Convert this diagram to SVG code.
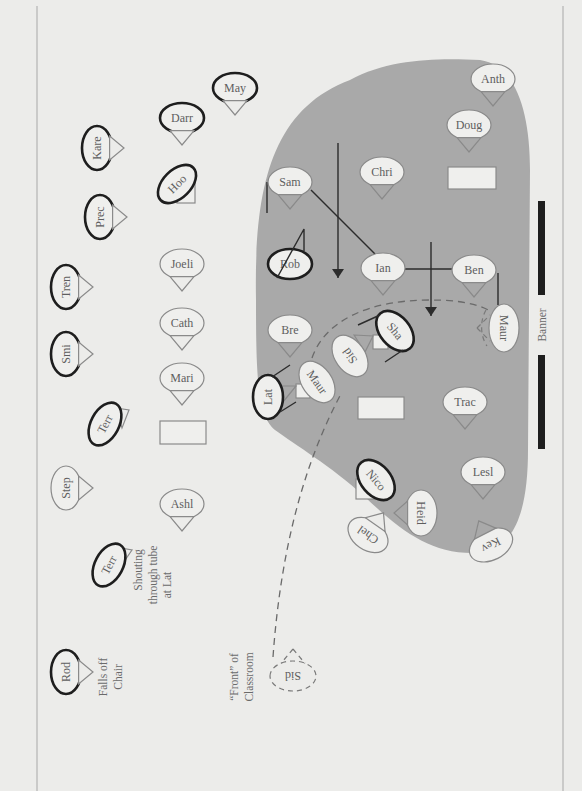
<svg xmlns="http://www.w3.org/2000/svg" width="582" height="791" viewBox="0 0 582 791">
<defs>
<style>
.e{fill:#efefed;stroke:#8a8a8a;stroke-width:1.2}
.k{stroke:#1e1e1e;stroke-width:2.6}
.t{stroke:#8a8a8a;stroke-width:1.2}
.to{fill:#ececea}
.ti{fill:#a9a9a9}
.r{fill:#efefed;stroke:#8a8a8a;stroke-width:1.2}
.lb{font-family:"Liberation Serif","Times New Roman",serif;font-size:12px;fill:#5e5e5e;text-anchor:middle;dominant-baseline:central}
.nt{font-family:"Liberation Serif","Times New Roman",serif;font-size:11.5px;fill:#6a6a6a;text-anchor:middle;dominant-baseline:central}
.ln{fill:none;stroke:#2c2c2c;stroke-width:1.4}
.ds{fill:none;stroke:#6a6a6a;stroke-width:1.3;stroke-dasharray:7 5}
.dn{fill:none;stroke:#7a7a7a;stroke-width:1.2;stroke-dasharray:5 4}
.tl{fill:none;stroke:#2c2c2c;stroke-width:1.4}
</style>
<marker id="ah" viewBox="0 0 9 12" refX="9" refY="6" markerWidth="9" markerHeight="12" markerUnits="userSpaceOnUse" orient="auto">
<path d="M0,0 L9,6 L0,12 z" fill="#2c2c2c"/>
</marker>
</defs>

<rect x="0" y="0" width="582" height="791" fill="#ececea"/>
<line x1="37" y1="6" x2="37" y2="791" stroke="#a8a8a8" stroke-width="1"/>
<line x1="563" y1="6" x2="563" y2="791" stroke="#a8a8a8" stroke-width="1"/>

<path id="zone" d="M256,300 C254,190 270,110 350,80 C390,58 440,58 480,60 C515,65 530,110 530,170 L528,450 C528,510 515,552 475,553 C430,554 400,530 365,497 C330,465 295,445 275,430 C258,415 256,380 256,300 Z" fill="#a9a9a9"/>

<g id="banner">
<rect x="538" y="201" width="7" height="94" fill="#1e1e1e"/>
<rect x="538" y="355" width="7" height="94" fill="#1e1e1e"/>
<text class="nt" transform="translate(542,325) rotate(-90)">Banner</text>
</g>

<g id="connectors">
<path class="ln" d="M267,182 V213"/>
<path class="ln" d="M311,190 L375,254"/>
<path class="ln" d="M405,269 H452"/>
<path class="ln" d="M498,273 V305"/>
<path class="ln" d="M338,143 V278" marker-end="url(#ah)"/>
<path class="ln" d="M431,242 V316" marker-end="url(#ah)"/>
<path class="ds" d="M273,657 C280,560 300,470 342,392"/>
<path class="ds" d="M312,358 C325,320 370,300 430,300 C460,300 478,304 490,311"/>
</g>

<!-- outside nodes -->
<g id="may" transform="translate(235,88)"><ellipse class="e k" rx="22" ry="15"/><polygon class="t to" points="-12,12.6 12,12.6 0,27"/><text class="lb">May</text></g>
<g id="darr" transform="translate(182,118)"><ellipse class="e k" rx="22" ry="15"/><polygon class="t to" points="-12,12.6 12,12.6 0,27"/><text class="lb">Darr</text></g>
<g id="kare" transform="translate(97,148) rotate(-90)"><ellipse class="e k" rx="22" ry="15"/><polygon class="t to" points="-12,12.6 12,12.6 0,27"/><text class="lb">Kare</text></g>
<g id="hoo"><rect class="r" x="177" y="178" width="18" height="25"/><ellipse class="e k" rx="23" ry="14" transform="translate(177,184) rotate(-45)"/><text class="lb" transform="translate(177,184) rotate(-45)">Hoo</text></g>
<g id="prec" transform="translate(100,217) rotate(-90)"><ellipse class="e k" rx="22" ry="15"/><polygon class="t to" points="-12,12.6 12,12.6 0,27"/><text class="lb">Prec</text></g>
<g id="joeli" transform="translate(182,264)"><ellipse class="e" rx="22" ry="15"/><polygon class="t to" points="-12,12.6 12,12.6 0,27"/><text class="lb">Joeli</text></g>
<g id="tren" transform="translate(66,287) rotate(-90)"><ellipse class="e k" rx="22" ry="15"/><polygon class="t to" points="-12,12.6 12,12.6 0,27"/><text class="lb">Tren</text></g>
<g id="cath" transform="translate(182,323)"><ellipse class="e" rx="22" ry="15"/><polygon class="t to" points="-12,12.6 12,12.6 0,27"/><text class="lb">Cath</text></g>
<g id="smi" transform="translate(66,354) rotate(-90)"><ellipse class="e k" rx="22" ry="15"/><polygon class="t to" points="-12,12.6 12,12.6 0,27"/><text class="lb">Smi</text></g>
<g id="mari" transform="translate(182,378)"><ellipse class="e" rx="22" ry="15"/><polygon class="t to" points="-12,12.6 12,12.6 0,27"/><text class="lb">Mari</text></g>
<g id="terr1"><polygon class="t to" points="116,408 129,410 122,428"/><ellipse class="e k" rx="23" ry="14" transform="translate(105,424) rotate(-62)"/><text class="lb" transform="translate(105,424) rotate(-62)">Terr</text></g>
<g id="desk1"><rect class="r" x="160" y="421" width="46" height="23"/></g>
<g id="step" transform="translate(66,488) rotate(-90)"><ellipse class="e" rx="22" ry="15"/><polygon class="t to" points="-12,12.6 12,12.6 0,27"/><text class="lb">Step</text></g>
<g id="ashl" transform="translate(182,504)"><ellipse class="e" rx="22" ry="15"/><polygon class="t to" points="-12,12.6 12,12.6 0,27"/><text class="lb">Ashl</text></g>
<g id="terr2"><polygon class="t to" points="115,547 132,550 123,563"/><ellipse class="e k" rx="23" ry="14" transform="translate(109,565) rotate(-62)"/><text class="lb" transform="translate(109,565) rotate(-62)">Terr</text></g>
<g id="rod" transform="translate(66,672) rotate(-90)"><ellipse class="e k" rx="22" ry="15"/><polygon class="t to" points="-12,12.6 12,12.6 0,27"/><text class="lb">Rod</text></g>
<g id="pls" transform="translate(293,676) rotate(180)"><ellipse class="dn" rx="23" ry="15"/><path class="dn" d="M0,27 L-12,12.6 M0,27 L12,12.6"/><text class="lb">Sid</text></g>

<!-- inside nodes -->
<g id="anth" transform="translate(493,79)"><ellipse class="e" rx="22" ry="15"/><polygon class="t ti" points="-12,12.6 12,12.6 0,27"/><text class="lb">Anth</text></g>
<g id="doug" transform="translate(469,125)"><ellipse class="e" rx="22" ry="15"/><polygon class="t ti" points="-12,12.6 12,12.6 0,27"/><text class="lb">Doug</text></g>
<g id="desk2"><rect class="r" x="448" y="167" width="48" height="22"/></g>
<g id="chri" transform="translate(382,172)"><ellipse class="e" rx="22" ry="15"/><polygon class="t ti" points="-12,12.6 12,12.6 0,27"/><text class="lb">Chri</text></g>
<g id="sam" transform="translate(290,182)"><ellipse class="e" rx="22" ry="15"/><polygon class="t ti" points="-12,12.6 12,12.6 0,27"/><text class="lb">Sam</text></g>
<g id="rob"><ellipse class="e k" cx="290" cy="264" rx="22" ry="15"/><text class="lb" x="290" y="264">Rob</text><path class="tl" d="M277,278 L304,229 L304,251"/></g>
<g id="ian" transform="translate(383,268)"><ellipse class="e" rx="22" ry="15"/><polygon class="t ti" points="-12,12.6 12,12.6 0,27"/><text class="lb">Ian</text></g>
<g id="ben" transform="translate(474,270)"><ellipse class="e" rx="22" ry="15"/><polygon class="t ti" points="-12,12.6 12,12.6 0,27"/><text class="lb">Ben</text></g>
<g id="maur-r" transform="translate(504,328) rotate(90)"><ellipse class="e" rx="24" ry="15"/><path class="dn" d="M0,27 L-13,14 M0,27 L13,14"/><path class="dn" d="M-18,18 C-8,24 8,24 18,17"/><text class="lb">Maur</text></g>
<g id="bre" transform="translate(290,330)"><ellipse class="e" rx="22" ry="15"/><polygon class="t ti" points="-12,12.6 12,12.6 0,27"/><text class="lb">Bre</text></g>
<g id="sha"><rect class="r" x="373" y="335" width="15" height="14"/><ellipse class="e k" rx="23" ry="15" transform="translate(395,331) rotate(50)"/><text class="lb" transform="translate(395,331) rotate(50)">Sha</text><path class="tl" d="M358,325 L380,315 M385,362 L403,350"/></g>
<g id="sid"><polygon class="t ti" points="354,335 373,336 365,352"/><ellipse class="e" rx="23" ry="15" transform="translate(350,356) rotate(55)"/><text class="lb" transform="translate(350,356) rotate(235)">Sid</text></g>
<g id="maur-l"><rect class="r" x="296" y="384" width="14" height="14"/><ellipse class="e" rx="23" ry="15" transform="translate(317,382) rotate(55)"/><text class="lb" transform="translate(317,382) rotate(55)">Maur</text></g>
<g id="lat"><polygon class="t ti" points="280,386 296,386 283,402"/><ellipse class="e k" cx="268" cy="397" rx="15" ry="22"/><text class="lb" transform="translate(268,397) rotate(-90)">Lat</text><path class="tl" d="M272,377 L290,365 M280,412 L296,402"/></g>
<g id="desk3"><rect class="r" x="358" y="397" width="46" height="22"/></g>
<g id="trac" transform="translate(465,402)"><ellipse class="e" rx="22" ry="15"/><polygon class="t ti" points="-12,12.6 12,12.6 0,27"/><text class="lb">Trac</text></g>
<g id="lesl" transform="translate(483,472)"><ellipse class="e" rx="22" ry="15"/><polygon class="t ti" points="-12,12.6 12,12.6 0,27"/><text class="lb">Lesl</text></g>
<g id="nico"><rect class="r" x="356" y="479" width="22" height="20"/><ellipse class="e k" rx="23" ry="15" transform="translate(376,480) rotate(50)"/><text class="lb" transform="translate(376,480) rotate(50)">Nico</text></g>
<g id="heid" transform="translate(421,513) rotate(90)"><ellipse class="e" rx="23" ry="16"/><polygon class="t ti" points="-12,13.4 12,13.4 0,27"/><text class="lb">Heid</text></g>
<g id="chel" transform="translate(368,535) rotate(215)"><ellipse class="e" rx="22" ry="15"/><polygon class="t to" points="-12,12.6 12,12.6 0,27"/><text class="lb">Chel</text></g>
<g id="kev" transform="translate(491,545) rotate(153)"><ellipse class="e" rx="23" ry="15"/><polygon class="t ti" points="-12,12.8 12,12.8 0,27"/><text class="lb">Kev</text></g>

<g id="notes">
<text class="nt" transform="translate(138,570) rotate(-90)">Shouting</text>
<text class="nt" transform="translate(153,575) rotate(-90)">through tube</text>
<text class="nt" transform="translate(167,585) rotate(-90)">at Lat</text>
<text class="nt" transform="translate(103,677) rotate(-90)">Falls off</text>
<text class="nt" transform="translate(118,677) rotate(-90)">Chair</text>
<text class="nt" transform="translate(234,677) rotate(-90)">“Front” of</text>
<text class="nt" transform="translate(249,677) rotate(-90)">Classroom</text>
</g>
</svg>
